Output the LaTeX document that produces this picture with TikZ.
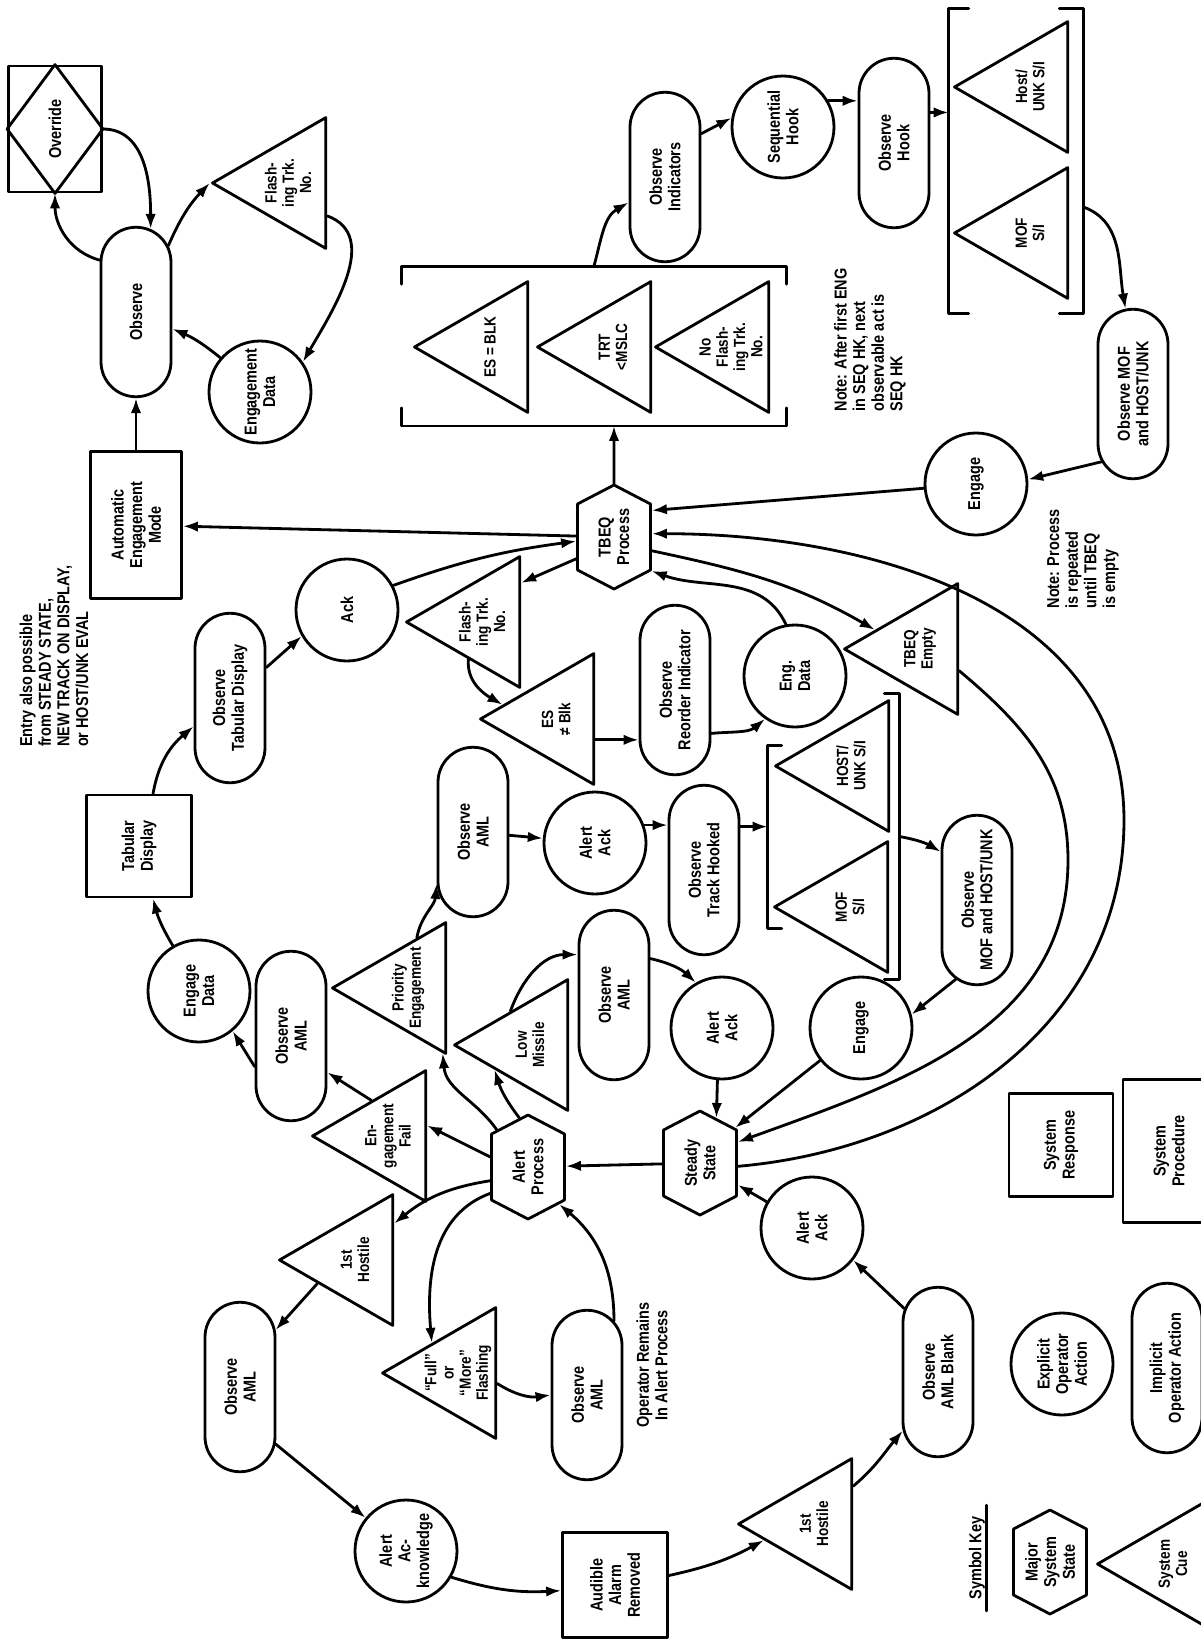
\documentclass[tikz,border=0pt]{standalone}
\usepackage{fontspec}
\setmainfont[FakeStretch=0.84]{Liberation Sans}
\usetikzlibrary{arrows.meta,shapes.geometric,shapes.misc,shapes.symbols}

\begin{document}
\begin{tikzpicture}[x=0.2mm,y=0.2mm,>={Latex[length=3mm,width=2.1mm]},
  font=\fontsize{9.8}{10.6}\selectfont\bfseries,line width=1.6pt,line join=round,line cap=round,
  obs/.style={draw,rounded rectangle,rotate=90,align=center,minimum width=34.6mm,minimum height=14mm,inner sep=1pt},
  opact/.style={draw,circle,rotate=90,align=center,minimum size=20.4mm,inner sep=-1mm},
  cue/.style={draw,regular polygon,regular polygon sides=3,rotate=90,align=center,minimum size=30.2mm,inner sep=-5mm,
    font=\fontsize{9.2}{9.8}\selectfont\bfseries},
  resp/.style={draw,rectangle,rotate=90,align=center,inner sep=1pt},
  mstate/.style={draw,signal,signal to=east and west,signal pointer angle=125,rotate=90,align=center,minimum width=20.8mm,minimum height=14.6mm,inner sep=0pt},
  txt/.style={rotate=90,align=left,inner sep=0pt},
  brk/.style={inner sep=0pt}]
\useasboundingbox (0,0) rectangle (1201,-1641);

\node[resp,minimum width=25.2mm,minimum height=18.6mm] (ovr) at (55,-129) {Override};
\draw (ovr.north) -- (ovr.east) -- (ovr.south) -- (ovr.west) -- cycle;
\node[obs] (obsA) at (136,-312) {Observe};
\node[cue] (flashA) at (288,-183) {Flash-\\ing Trk.\\No.};
\node[opact] (engdA) at (260,-392) {Engagement\\Data};
\node[resp,minimum width=29.4mm,minimum height=18.2mm] (aem) at (136,-525) {Automatic\\Engagement\\Mode};
\node[txt] (entry) at (54,-656) {Entry also possible\\from STEADY STATE,\\NEW TRACK ON DISPLAY,\\or HOST/UNK EVAL};

\node[brk,minimum width=76.4mm,minimum height=31.4mm] (brkA) at (594,-346) {};
\draw ([yshift=-3.6mm]brkA.north west) -- (brkA.north west) -- (brkA.north east) -- ++(0,-3.6mm);
\draw ([yshift=3.6mm]brkA.south west) -- (brkA.south west) -- (brkA.south east) -- ++(0,3.6mm);
\node[cue] (esblk) at (490,-347) {ES = BLK};
\node[cue] (trt) at (613,-347) {TRT\\<MSLC};
\node[cue] (noflash) at (731,-347) {No\\Flash-\\ing Trk.\\No.};
\node[obs] (obsI) at (665,-177) {Observe\\Indicators};
\node[opact] (seqH) at (783,-127) {Sequential\\Hook};
\node[obs] (obsH) at (894,-143) {Observe\\Hook};
\node[brk,minimum width=26.4mm,minimum height=60.4mm] (brkC) at (1016,-161) {};
\draw ([xshift=4mm]brkC.north west) -- (brkC.north west) -- (brkC.south west) -- ++(4mm,0);
\draw ([xshift=-4.8mm]brkC.north east) -- (brkC.north east) -- (brkC.south east) -- ++(-4.8mm,0);
\node[cue] (hostA) at (1030,-87) {Host/\\UNK S/I};
\node[cue] (mofA) at (1030,-233) {MOF\\S/I};
\node[obs] (obsMA) at (1133,-394) {Observe MOF\\and HOST/UNK};
\node[opact] (engA) at (976,-484) {Engage};
\node[txt] (noteA) at (870,-340) {Note: After first ENG\\in SEQ HK, next\\observable act is\\SEQ HK};
\node[txt] (noteB) at (1083,-559) {Note: Process\\is repeated\\until TBEQ\\is empty};
\node[mstate] (tbeq) at (614,-537) {TBEQ\\Process};

\node[opact] (ack) at (347,-610) {Ack};
\node[obs] (obsTab) at (230,-698) {Observe\\Tabular Display};
\node[resp,minimum width=20.4mm,minimum height=21mm] (tab) at (139,-846) {Tabular\\Display};
\node[opact] (engDat) at (199,-991) {Engage\\Data};

\node[cue] (flashB) at (482,-622) {Flash-\\ing Trk.\\No.};
\node[cue] (esne) at (556,-719) {ES\\≠ Blk};
\node[obs] (obsRI) at (675,-690) {Observe\\Reorder Indicator};
\node[opact] (engB) at (795,-676) {Eng.\\Data};
\node[cue] (tbeqE) at (920,-649) {TBEQ\\Empty};
\node[brk,minimum width=25.8mm,minimum height=56.6mm] (brkB) at (833.5,-836.5) {};
\draw ([shift={(2.8mm,-10.4mm)}]brkB.north west) -- ++(-2.8mm,0) -- ([yshift=10.2mm]brkB.south west) -- ++(2.8mm,0);
\draw ([xshift=-3mm]brkB.north east) -- (brkB.north east) -- (brkB.south east) -- ++(-3mm,0);
\node[cue] (hostB) at (851,-766) {HOST/\\UNK S/I};
\node[cue] (mofB) at (850,-907) {MOF\\S/I};
\node[obs] (obsMB) at (977,-900) {Observe\\MOF and HOST/UNK};
\node[opact] (engC) at (861,-1028) {Engage};
\node[obs] (obsB) at (473,-832) {Observe\\AML};
\node[opact] (ackA) at (595,-843) {Alert\\Ack};
\node[obs] (obsTH) at (704,-870) {Observe\\Track Hooked};

\node[cue] (priority) at (408,-988) {Priority\\Engagement};
\node[cue] (lowM) at (530,-1045) {Low\\Missile};
\node[obs] (obsC) at (614,-995) {Observe\\AML};
\node[opact] (ackB) at (722,-1028) {Alert\\Ack};
\node[obs] (obsE) at (291,-1036) {Observe\\AML};
\node[cue] (engFail) at (388,-1136) {En-\\gagement\\Fail};
\node[mstate] (alertP) at (528,-1167) {Alert\\Process};
\node[mstate] (steady) at (700,-1163) {Steady\\State};
\node[cue] (hostileA) at (355,-1260) {1st\\Hostile};
\node[cue] (fullMore) at (458,-1373) {``Full''\\or\\``More''\\Flashing};
\node[obs] (obsD) at (587,-1395) {Observe\\AML};
\node[txt,align=center] (remain) at (652,-1365) {Operator Remains\\In Alert Process};
\node[obs] (obsF) at (240,-1387) {Observe\\AML};
\node[opact] (ackD) at (406,-1551) {Alert\\Ac-\\knowledge};
\node[resp,minimum width=21mm,minimum height=21mm] (aud) at (615,-1585) {Audible\\Alarm\\Removed};
\node[cue] (hostileB) at (814,-1524) {1st\\Hostile};
\node[obs] (obsG) at (938,-1372) {Observe\\AML Blank};
\node[opact] (ackC) at (812,-1228) {Alert\\Ack};

\node[resp,minimum width=20.6mm,minimum height=20.8mm] (keyResp) at (1061,-1145) {System\\Response};
\node[resp,minimum width=28.6mm,minimum height=18.4mm] (keyProc) at (1169,-1151) {System\\Procedure};
\node[opact] (keyExp) at (1062,-1364) {Explicit\\Operator\\Action};
\node[obs] (keyImp) at (1167,-1368) {Implicit\\Operator Action};
\node[txt] (key) at (977,-1558) {Symbol Key};
\draw ([yshift=-2mm]key.south west) -- ([yshift=2mm]key.south east);
\node[mstate] (keyState) at (1050,-1562) {Major\\System\\State};
\node[cue] (keyCue) at (1173,-1564) {System\\Cue};

\draw[->] (obsA.35) to[out=165,in=-90] (ovr.west);
\draw[->] (ovr.south) to[out=0,in=90] (obsA.-10);
\draw[->] (obsA.-26) to[bend left=10] (flashA.north);
\draw[->] (flashA.-130) to[out=-20,in=60] (engdA.-55);
\draw[->] (engdA) to[bend right=8] (obsA);
\draw[->] (aem) -- (obsA);
\draw[->] (tbeq) -- (aem);
\draw[->] (ack.-62) to[bend left=6] (tbeq);
\draw[->] (tbeq.120) -- (flashB.-45);
\draw[->] (flashB.160) to[out=-95,in=150] (esne.75);
\draw[->] (esne.-118) -- (esne.-118 -| obsRI.north);
\draw[->] (obsRI.-140) to[out=5,in=-140] (engB.145);
\draw[->] (engB.10) to[out=115,in=-20] (tbeq.-132);
\draw[->] (tbeq.-110) to[out=-12,in=150] (tbeqE.67);
\draw[->] (steady.-95) to[out=5,in=-90] (1124,-820) to[out=90,in=0] (tbeq.-85);
\draw[->] (tbeqE.-119) to[out=-40,in=90] (1068,-860) to[out=-90,in=20] (steady.-61);
\draw[->] (engC) -- (steady.-45);
\draw[->] (ackB.175) -- (steady.-20);
\draw[->] (ackC) -- (steady);
\draw[->] (steady) -- (alertP);
\draw[->] (alertP.75) -- (engFail.-75);
\draw[->] (alertP.110) to[bend right=15] (hostileA.-47);
\draw[->] (alertP.125) to[out=200,in=95] (fullMore.41);
\draw[->] (fullMore.-105) to[bend right=20] (obsD.north);
\draw[->] (obsD.-20) to[out=90,in=-40] (alertP.-140);
\draw[->] (alertP.40) to[out=125,in=-85] (priority.-152);
\draw[->] (alertP.10) to[bend left=10] (lowM.125);
\draw[->] (lowM.30) to[out=70,in=180] (obsC.42);
\draw[->] (obsC.-45) to[bend left=15] (ackB.30);
\draw[->] (priority.-10) to[out=80,in=-95] (obsB.145);
\draw[->] (obsB) -- (ackA);
\draw[->] (ackA.-70) -- (ackA.-70 -| obsTH.north);
\draw[->] (obsTH.-40) -- (obsTH.-40 -| brkB.west);
\draw[->] (brkB.east) to[bend left=10] (obsMB.37);
\draw[->] (obsMB.165) -- (engC.-75);
\draw[->] (tbeq) -- (tbeq |- brkA.south);
\draw[->] (brkA.north) to[out=75,in=-150] (obsI.125);
\draw[->] (obsI.-40) -- (seqH.80);
\draw[->] (seqH.-60) -- (seqH.-60 -| obsH.north);
\draw[->] (obsH.-50) -- (obsH.-50 -| brkC.west);
\draw[->] ([yshift=-9.2mm]brkC.east) to[out=-20,in=100] (obsMA.5);
\draw[->] (obsMA.155) -- (engA.-85);
\draw[->] (engA) -- (tbeq.-55);
\draw[->] (obsE.130) -- (engDat.-140);
\draw[->] (engFail.25) -- (obsE.-135);
\draw[->] (engDat.30) to[bend left=8] (tab.-165);
\draw[->] (tab.-15) to[out=80,in=-140] (obsTab.128);
\draw[->] (obsTab.-50) -- (ack.120);
\draw[->] (hostileA.122) -- (obsF.-32);
\draw[->] (obsF.-148) -- (ackD);
\draw[->] (ackD.-120) to[bend right=10] (aud.96);
\draw[->] (aud.-80) to[bend right=8] (hostileB.108);
\draw[->] (hostileB.-46) to[out=40,in=-130] (obsG.149);
\draw[->] (obsG.28) -- (ackC.-128);
\end{tikzpicture}
\end{document}
